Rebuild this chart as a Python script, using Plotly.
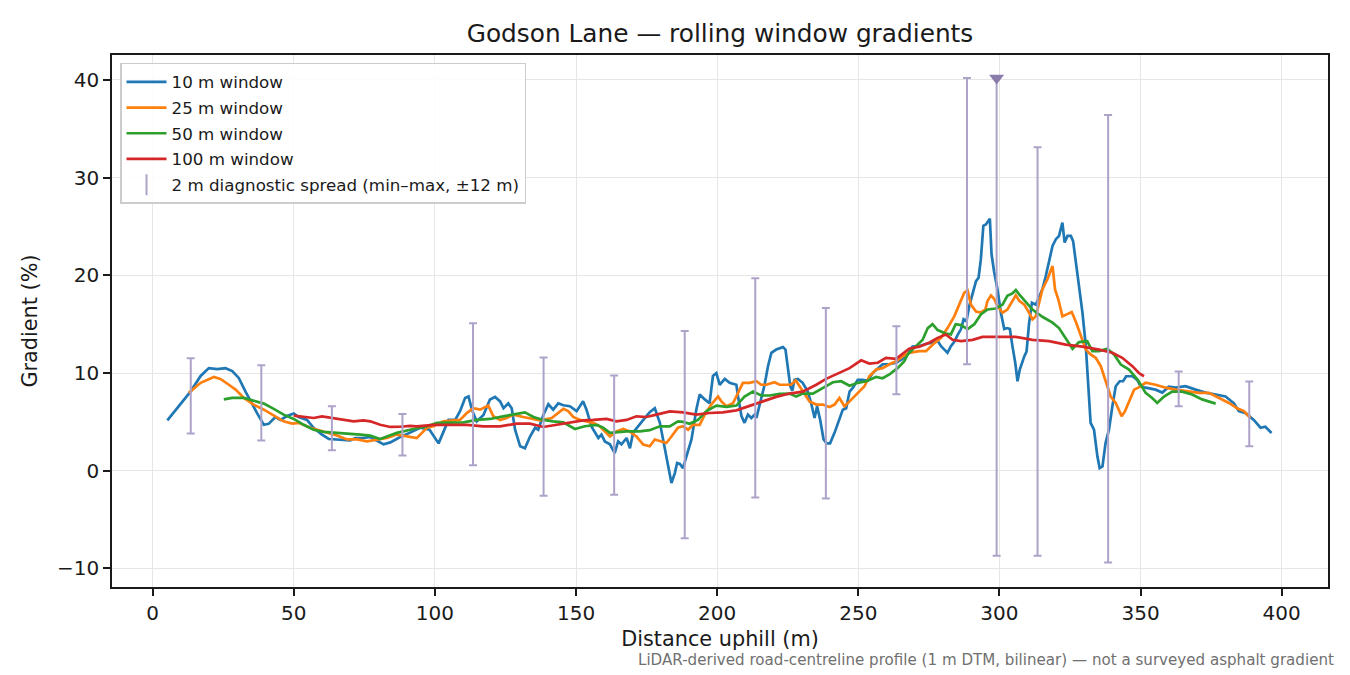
import plotly.graph_objects as go

# ---------------- data ----------------
w10_x = [5.2, 11.1, 13.4, 17, 19.9, 22.9, 25.8, 28.2, 30.5, 32.9, 34.7, 37.0, 39.4, 41.1, 43.5, 45.3, 47.6, 50, 51.7, 54.7,
         57.0, 60, 62.4, 66.5, 70, 71.8, 74.7, 77.1, 79.5, 81.8, 84.2, 87.7, 91.2, 94.8, 98.1, 101.3, 102.9, 104.8, 107.2, 108.9,
         110.7, 111.9, 113.1, 114.8, 117.2, 119.5, 121.3, 123.1, 124.3, 126, 127.2, 128.4, 130.2, 131.9, 133.7, 135.5, 136.6, 138.4, 140.2, 141.9,
         143.7, 145.5, 147.8, 150.2, 152.5, 153.7, 155.5, 157.9, 159, 160.2, 162, 163.7, 164.9, 166.1, 167.9, 169.1, 170.2, 172, 174.4, 176.1,
         177.9, 179.7, 181.4, 182.6, 183.8, 185, 185.8, 186.8, 187.9, 189.1, 190.9, 192.6, 193.8, 195.6, 197.3, 198.5, 199.7, 200.9, 202.7, 204.4,
         206.8, 207.4, 208.6, 209.7, 210.9, 212.1, 213.3, 213.9, 215, 216.8, 218, 219.2, 220.9, 223.3, 224.2, 225, 225.9, 226.6, 227.4, 228.6,
         230.3, 232.1, 233.3, 234.5, 235.4, 236.5, 237.7, 238.8, 240, 241.6, 243.3, 244.5, 245.7, 246.9, 248.1, 249.8, 251.6, 253.3, 255.1, 256.9,
         258.6, 261, 263.4, 265.7, 266.9, 269.2, 271.6, 274, 276.3, 278.1, 279.3, 280.5, 281.6, 282.8, 284, 285.2, 286.4, 287.3, 288.3, 289.3,
         290.5, 291.7, 292.6, 293.4, 294.3, 295.2, 296.6, 297.2, 298.1, 299.3, 300.5, 301.7, 302.8, 303.7, 304.6, 305.6, 306.4, 307.2, 308.8, 309.6,
         310.5, 311.5, 312.9, 315.2, 316.4, 317.6, 318.8, 320, 321.1, 322.3, 323.1, 324.1, 325.3, 326.1, 327, 328.2, 329.4, 330.6, 331.5, 332.3,
         333.5, 334.7, 335.5, 336.5, 337.6, 338.8, 340, 341.2, 342.6, 343.8, 344.9, 347.1, 348.8, 350, 351.8, 355.3, 357.7, 360, 362.4, 365.9,
         369.5, 373, 376.6, 380.1, 383.1, 384.8, 387.2, 390.1, 392.5, 394.2, 396.4]
w10_y = [5.16, 7.3, 8.1, 9.7, 10.5, 10.4, 10.5, 10.2, 9.5, 8.1, 7.1, 5.9, 4.7, 4.8, 5.5, 5.2, 5.6, 5.85, 5.5, 5.2,
         4.4, 3.7, 3.25, 3.2, 3.1, 3.35, 3.35, 3.45, 3.1, 2.7, 2.9, 3.45, 3.9, 4.4, 4.2, 2.8, 3.9, 5.2, 5.2, 6.1,
         7.45, 7.6, 6.25, 5.05, 5.7, 7.3, 7.55, 7.1, 6.4, 6.9, 6.4, 4.2, 2.5, 2.3, 3.5, 4.4, 4.2, 5.7, 6.8, 6.25,
         6.9, 6.7, 6.6, 6.1, 7.1, 6.25, 4.5, 3.35, 3.7, 3.0, 2.7, 1.8, 3.0, 2.7, 3.35, 2.3, 3.9, 4.5, 5.4, 6.0,
         6.4, 4.9, 2.5, 0.45, -1.26, -0.24, 0.8, 0.7, 0.27, 1.47, 3.2, 6.25, 7.8, 7.3, 6.9, 9.7, 10.0, 8.8, 9.4, 9.0,
         8.8, 7.6, 5.6, 4.9, 5.75, 5.4, 5.75, 5.4, 6.6, 8.8, 10.7, 12.07, 12.4, 12.65, 12.4, 10.36, 8.65, 8.2, 9.3, 9.4,
         9.0, 8.1, 6.9, 5.4, 6.6, 5.2, 3.2, 2.8, 2.8, 3.9, 5.2, 6.25, 6.4, 8.1, 8.5, 9.3, 9.3, 9.2, 10.0, 10.5,
         10.9, 10.9, 11.05, 11.45, 11.7, 12.7, 12.75, 13.0, 13.1, 13.3, 12.75, 12.4, 12.07, 12.75, 13.2, 13.9, 14.5, 15.5, 15.3, 16.85,
         18.2, 19.4, 19.76, 21.6, 25.06, 25.2, 25.8, 22.15, 20.4, 18.56, 16.2, 14.5, 14.6, 14.5, 12.75, 11.05, 9.16, 10.36, 11.7, 12.2,
         15.1, 17.2, 17.0, 18.56, 19.9, 21.3, 23.0, 23.7, 24.03, 25.4, 23.35, 24.03, 24.03, 23.5, 21.6, 19.25, 16.2, 12.75, 8.65, 4.9,
         4.2, 1.47, 0.27, 0.44, 2.84, 4.2, 6.6, 8.65, 9.16, 9.16, 9.67, 9.67, 9.3, 8.65, 8.5, 8.3, 8.0, 8.6, 8.5, 8.65,
         8.3, 8.0, 7.8, 7.6, 6.9, 6.1, 5.9, 5.2, 4.4, 4.5, 3.87]

w25_x = [12.8, 17, 21.7, 24, 27, 29.4, 32.3, 35.8, 39.4, 42.9, 46.4, 49.4, 51.7, 55.9, 60.6, 65.3, 68.9, 72.4, 75.9, 79.5,
         83, 86.5, 90.7, 93.6, 95.4, 97.2, 99.5, 103, 106.6, 108.9, 111.3, 113.6, 116, 118.9, 120.7, 123.1, 125.4, 127.8, 131.3, 134.9,
         137.2, 141.4, 145.5, 147.2, 149, 151.4, 153.7, 156.1, 158.4, 160.2, 162, 164.3, 166.7, 169, 171.4, 173.8, 176.1, 177.9, 180.3, 182,
         183.8, 186.1, 187.9, 189.7, 191.4, 193.8, 195.6, 197.9, 200.3, 201.5, 203.3, 205.6, 207.4, 209.1, 211.5, 213.9, 215.6, 217.4, 220.3, 222.1,
         224.5, 226.2, 227.8, 228.9, 230.3, 232.7, 235.1, 237.4, 239.8, 241.6, 243.3, 245.1, 246.9, 249.2, 252.2, 253.9, 256.3, 258.6, 261, 263.4,
         265.7, 268, 271.6, 274, 276.3, 279.3, 281.6, 284, 285.8, 287.5, 288.7, 289.9, 291.7, 293.4, 295, 295.8, 297, 298.1, 299.3, 301.1,
         302.8, 304.6, 305.8, 307, 308.8, 310.5, 311.7, 312.9, 314.1, 315.2, 317, 318.8, 319.7, 320.9, 322.3, 324.1, 325.6, 327, 328.8, 330.6,
         332.3, 334.1, 335.9, 337.6, 339.4, 341.2, 343.3, 344.5, 345.9, 347.7, 349.2, 351.8, 355.3, 358.9, 362.4, 367.1, 370.7, 374.2, 377.7, 381.3,
         384.2, 386.6, 388.9]
w25_y = [7.97, 9.0, 9.6, 9.4, 8.8, 8.3, 7.45, 6.77, 6.25, 5.64, 5.06, 4.82, 4.9, 4.4, 4.03, 3.6, 3.2, 3.2, 3.0, 3.2,
         3.35, 3.7, 3.45, 3.35, 3.87, 4.4, 4.55, 5.06, 5.16, 5.2, 5.9, 6.4, 6.25, 6.67, 5.57, 5.2, 5.4, 5.74, 5.5, 5.3,
         5.16, 5.4, 6.33, 6.1, 5.5, 5.2, 5.06, 4.9, 4.55, 4.03, 3.5, 4.03, 4.27, 4.03, 3.5, 2.67, 2.5, 3.2, 3.0, 2.84,
         3.5, 4.4, 4.55, 4.2, 4.7, 4.7, 5.74, 6.77, 7.6, 7.1, 6.6, 6.9, 7.97, 9.0, 9.0, 9.16, 8.8, 8.8, 9.06, 8.8,
         8.8, 8.8, 9.26, 8.8, 8.1, 7.1, 6.77, 6.77, 6.53, 6.77, 7.45, 6.6, 7.1, 7.8, 8.65, 9.67, 10.36, 10.5, 10.9, 11.2,
         11.7, 12.07, 12.24, 12.24, 12.9, 13.6, 14.6, 15.8, 17.0, 18.2, 18.46, 17.0, 16.3, 16.2, 16.5, 17.4, 17.95, 17.6, 16.85, 16.17,
         16.5, 17.4, 17.95, 17.4, 17.0, 16.17, 15.5, 15.8, 17.2, 18.56, 19.6, 20.95, 18.56, 17.5, 15.8, 16.0, 16.24, 15.3, 13.8, 12.4,
         11.9, 11.56, 10.7, 9.3, 7.6, 6.94, 5.57, 6.1, 7.1, 8.3, 8.5, 9.0, 8.8, 8.5, 8.3, 8.1, 7.97, 7.97, 7.45, 6.94,
         6.4, 6.1, 5.4]

w50_x = [25.2, 28.2, 32.3, 35.8, 39.4, 42.9, 46.4, 50, 53.5, 57, 60.6, 65.3, 70, 73.6, 77.1, 80.6, 83, 86.5, 92.4, 97.2,
         100.7, 105.4, 110.1, 114.8, 119.5, 124.2, 127.8, 131.9, 134.9, 138.4, 141.9, 145.5, 149.6, 153.1, 157.3, 159.6, 162, 164.3, 167.9, 172.6,
         176.1, 179.7, 183.2, 186.1, 187.9, 190.2, 193.2, 196.2, 199.7, 203.3, 206.8, 209.7, 212.7, 215.6, 218.6, 222.1, 225.6, 228, 230.3, 233.9,
         237.4, 241, 243.9, 246.9, 249.8, 252.8, 256.3, 258.6, 261, 263.9, 266.3, 267.5, 270.4, 272.8, 274.6, 276.3, 278.1, 281, 282.8, 284.5,
         286.4, 288.7, 291.1, 293.4, 295.8, 298.7, 301.1, 302.8, 304.6, 305.8, 307, 309.4, 311.7, 315.2, 318.8, 321.1, 323.5, 325.9, 328.2, 331.1,
         332.9, 335.3, 338.2, 340.6, 343, 345.9, 349, 351.8, 354.1, 355.9, 358.3, 361.2, 364.7, 368.3, 371.8, 376.6]
w50_y = [7.3, 7.45, 7.45, 7.2, 6.87, 6.33, 5.74, 5.3, 4.7, 4.2, 3.97, 3.87, 3.8, 3.7, 3.6, 3.25, 3.5, 3.87, 4.27, 4.55,
         4.9, 4.95, 4.95, 5.2, 5.3, 5.57, 5.74, 5.98, 5.5, 5.2, 5.06, 4.95, 4.27, 4.55, 4.7, 4.4, 3.87, 3.93, 4.03, 4.03,
         4.15, 4.55, 4.55, 5.06, 5.0, 4.8, 5.2, 6.1, 6.67, 6.53, 6.67, 7.6, 8.1, 7.7, 7.7, 7.86, 7.9, 7.6, 7.9, 7.9,
         8.5, 9.06, 9.16, 8.7, 9.0, 9.16, 9.6, 9.47, 9.85, 10.5, 11.2, 11.9, 12.75, 13.4, 14.6, 15.0, 14.4, 14.05, 13.95, 15.0,
         14.9, 14.5, 15.0, 16.0, 16.5, 16.6, 17.0, 17.9, 18.15, 18.5, 18.05, 17.2, 16.5, 15.76, 15.15, 14.6, 13.6, 12.48, 13.16, 13.26,
         12.24, 12.24, 12.48, 11.9, 10.87, 10.36, 9.3, 7.97, 7.45, 6.94, 7.6, 8.1, 8.1, 7.8, 7.3, 6.87]

w100_x = [50, 53.5, 57, 60, 63.5, 67.1, 71.2, 74.7, 77.1, 80.6, 84.2, 87.7, 91.2, 93.6, 99.5, 105.4, 111.3, 117.2, 123.1, 129,
          133.7, 138.4, 143.1, 147.8, 152.5, 156.1, 160.8, 164.3, 167.9, 171.4, 174.9, 178.5, 183.2, 187.9, 192.6, 197.3, 202, 206.8, 211.5, 216.2,
          220.9, 225.6, 230.3, 235.1, 238.6, 242.2, 246.9, 251, 253.9, 256.9, 259.8, 263.4, 268, 271.6, 275.1, 278.1, 281, 283.4, 286.4, 290.5,
          294, 299.9, 305.8, 311.7, 317.6, 323.5, 329.4, 335.3, 340, 343.5, 347.1, 349.4, 351.2]
w100_y = [5.64, 5.5, 5.4, 5.57, 5.4, 5.3, 5.06, 5.16, 5.06, 4.7, 4.48, 4.5, 4.6, 4.55, 4.7, 4.7, 4.7, 4.55, 4.55, 4.82,
          4.82, 4.48, 4.7, 4.9, 5.16, 5.2, 5.3, 5.06, 5.2, 5.57, 5.5, 5.74, 6.08, 5.98, 5.74, 5.91, 5.98, 6.18, 6.67, 7.1,
          7.56, 7.9, 8.1, 8.8, 9.4, 9.85, 10.5, 11.3, 10.97, 11.05, 11.56, 11.45, 12.48, 12.7, 13.1, 13.6, 13.95, 13.4, 13.26, 13.4,
          13.7, 13.7, 13.7, 13.4, 13.26, 12.9, 12.7, 12.4, 12.07, 11.56, 10.7, 10.0, 9.67]

spread_x = [13.5, 38.5, 63.5, 88.5, 113.5, 138.5, 163.5, 188.5, 213.5, 238.5, 263.5, 288.5, 299, 313.5, 338.5, 363.5, 388.5]
spread_max = [11.5, 10.8, 6.6, 5.8, 15.1, 11.6, 9.75, 14.3, 19.7, 16.65, 14.8, 40.2, 40.2, 33.1, 36.4, 10.15, 9.13]
spread_min = [3.8, 3.1, 2.1, 1.55, 0.55, -2.55, -2.45, -6.9, -2.75, -2.85, 7.83, 10.9, -8.7, -8.7, -9.4, 6.6, 2.5]
clipped_idx = [12]

title_text = "Godson Lane — rolling window gradients"
x_label = "Distance uphill (m)"
y_label = "Gradient (%)"
note_text = "LiDAR-derived road-centreline profile (1 m DTM, bilinear) — not a surveyed asphalt gradient"

# ---------------- figure ----------------
FONT = "DejaVu Sans"
ERR_COL = "#ada3c9"
TRI_COL = "#8a7cab"
OFF = 8  # browser page margin compensation
W, H = 1350 - OFF, 675 - OFF

fig = go.Figure()

series = [
    (w10_x, w10_y, "10 m window", "#1f77b4"),
    (w25_x, w25_y, "25 m window", "#ff7f0e"),
    (w50_x, w50_y, "50 m window", "#2ca02c"),
    (w100_x, w100_y, "100 m window", "#d62728"),
]
for i, (xs, ys, name, col) in enumerate(series):
    fig.add_trace(go.Scatter(x=xs, y=ys, mode="lines", name=name,
                             line=dict(color=col, width=2.7), legendgroup=f"g{i}"))

mid = [(a + b) / 2 for a, b in zip(spread_max, spread_min)]
half = [(a - b) / 2 for a, b in zip(spread_max, spread_min)]
fig.add_trace(go.Scatter(
    x=spread_x, y=mid, mode="markers", showlegend=False,
    marker=dict(size=1, opacity=0),
    error_y=dict(type="data", array=half, symmetric=True, color=ERR_COL, thickness=2, width=4),
    hoverinfo="skip"))
# legend entry for the spread
fig.add_trace(go.Scatter(
    x=[None], y=[None], mode="markers", name="2 m diagnostic spread (min–max, ±12 m)",
    marker=dict(symbol="line-ns", size=15, color=ERR_COL, line=dict(color=ERR_COL, width=2)),
    legendgroup="g9"))
# clipped marker
fig.add_trace(go.Scatter(
    x=[spread_x[i] for i in clipped_idx], y=[spread_max[i] for i in clipped_idx],
    mode="markers", showlegend=False,
    marker=dict(symbol="triangle-down", size=13, color=TRI_COL)))

axis_common = dict(
    showline=True, mirror=True, linecolor="#1a1a1a", linewidth=1.6,
    ticks="outside", ticklen=7, tickwidth=1.6, tickcolor="#1a1a1a",
    showgrid=True, gridcolor="#e6e6e6", gridwidth=1.4, zeroline=False,
    tickfont=dict(family=FONT, size=20, color="#1a1a1a"),
)

fig.update_layout(
    width=W, height=H,
    margin=dict(l=112 - OFF, r=22, t=55 - OFF, b=88),
    paper_bgcolor="white", plot_bgcolor="white",
    font=dict(family=FONT, color="#1a1a1a"),
    title=dict(text=title_text, x=0.5, xref="paper", xanchor="center",
               y=1 - (33 - OFF) / H, yanchor="middle", font=dict(family=FONT, size=24.8, color="#1a1a1a")),
    xaxis=dict(range=[-14.4, 416.4], tickvals=[0, 50, 100, 150, 200, 250, 300, 350, 400],
               title=dict(text=x_label, font=dict(family=FONT, size=20.8), standoff=8), **axis_common),
    yaxis=dict(range=[-11.9, 42.55], tickvals=[-10, 0, 10, 20, 30, 40],
               title=dict(text=y_label, font=dict(family=FONT, size=20.8), standoff=14), **axis_common),
    legend=dict(x=0.0066, y=0.985, xanchor="left", yanchor="top",
                bgcolor="rgba(255,255,255,0.85)", bordercolor="#cccccc", borderwidth=1.5,
                font=dict(family=FONT, size=16.7, color="#1a1a1a"), tracegroupgap=1, itemwidth=40),
    showlegend=True,
)

fig.add_annotation(text=note_text, xref="paper", yref="paper", x=1, xshift=8, y=-0.137,
                   xanchor="right", yanchor="middle", showarrow=False,
                   font=dict(family=FONT, size=15.1, color="#707070"))

fig.write_html("out.html")
